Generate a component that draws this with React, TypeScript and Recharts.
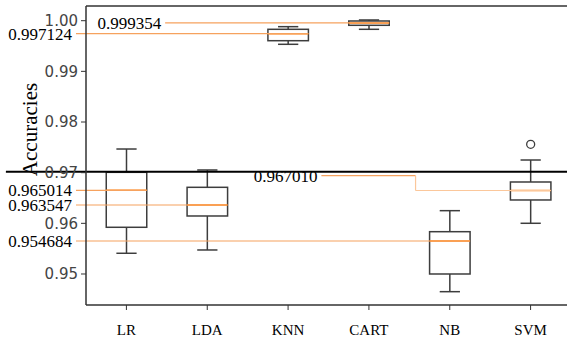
import { ComposedChart, Bar, XAxis, YAxis, ReferenceLine, Label } from 'recharts';

const models = ['LR', 'LDA', 'KNN', 'CART', 'NB', 'SVM'];
const whiskerLow = [0.95409, 0.95474, 0.99534, 0.9983, 0.94651, 0.96001];
const quartile1 = [0.95922, 0.96145, 0.99605, 0.99909, 0.95, 0.96461];
const medians = [0.96652, 0.96362, 0.99743, 0.99955, 0.95651, 0.96648];
const quartile3 = [0.97007, 0.96711, 0.9983, 0.99994, 0.95835, 0.96816];
const whiskerHigh = [0.97467, 0.97053, 0.99882, 1.00014, 0.9625, 0.9725];
const outliers = [[], [], [], [], [], [0.9756]];
const yTicks = [0.95, 0.96, 0.97, 0.98, 0.99, 1.0];
const medianTexts = ['0.965014', '0.963547', '0.997124', '0.999354', '0.954684', '0.967010'];
const thresholdLine = 0.9702;
const svmLabelLevel = 0.9694;

const Y_MIN = 0.94388;
const Y_MAX = 1.0029;

const data = models.map((name, i) => ({
  name,
  pos: i + 1,
  lo: whiskerLow[i],
  q1: quartile1[i],
  med: medians[i],
  q3: quartile3[i],
  hi: whiskerHigh[i],
  out: outliers[i],
}));

const BOX = '#3d3d3d';
const MEDIAN = '#ff7f0e';
const NOTE = '#f6a25e';
const NOTE_LIGHT = '#fbc79b';
const SERIF = '"Liberation Serif", "Times New Roman", serif';

// box + whiskers drawn inside one range bar (lo..hi), other levels mapped on the same pixel span
const BoxShape = (props: any) => {
  const { x, y, width, height, payload } = props;
  const { lo, hi, q1, med, q3, out } = payload;
  const py = (v: number) => y + ((hi - v) / (hi - lo)) * height;
  const cx = x + width / 2;
  const bw = width / 2;
  const cw = width / 4;
  return (
    <g>
      <line x1={cx} x2={cx} y1={py(hi)} y2={py(q3)} stroke={BOX} strokeWidth={1.5} />
      <line x1={cx} x2={cx} y1={py(q1)} y2={py(lo)} stroke={BOX} strokeWidth={1.5} />
      <line x1={cx - cw / 2} x2={cx + cw / 2} y1={py(hi)} y2={py(hi)} stroke={BOX} strokeWidth={1.5} />
      <line x1={cx - cw / 2} x2={cx + cw / 2} y1={py(lo)} y2={py(lo)} stroke={BOX} strokeWidth={1.5} />
      <rect x={cx - bw / 2} y={py(q3)} width={bw} height={py(q1) - py(q3)} fill="none" stroke={BOX} strokeWidth={1.5} />
      <line x1={cx - bw / 2} x2={cx + bw / 2} y1={py(med)} y2={py(med)} stroke={MEDIAN} strokeWidth={1.5} />
      {out.map((o: number, k: number) => (
        <circle key={k} cx={cx} cy={py(o)} r={4} fill="none" stroke={BOX} strokeWidth={1.3} />
      ))}
    </g>
  );
};

const noteLabel = (value: string) => ({
  value,
  position: 'left' as const,
  offset: 4,
  fill: '#000',
  fontSize: 17,
  fontFamily: SERIF,
});

const App = () => (
  <div style={{ position: 'absolute', left: 0, top: 0, width: 567, height: 341, overflow: 'hidden', background: '#fff' }}>
    <ComposedChart
      width={571}
      height={341}
      data={data}
      barCategoryGap="0%"
      margin={{ top: 6, right: 0, left: 0, bottom: 0 }}
    >
      <XAxis
        xAxisId="cat"
        dataKey="name"
        height={36}
        tickSize={5}
        tickMargin={14}
        axisLine={{ stroke: '#333', strokeWidth: 1.5 }}
        tickLine={{ stroke: '#333' }}
        tick={{ fill: '#000', fontSize: 15, fontFamily: SERIF }}
      />
      <XAxis xAxisId="num" dataKey="pos" type="number" domain={[0.5, 6.5]} allowDataOverflow hide />
      <YAxis
        width={86}
        type="number"
        domain={[Y_MIN, Y_MAX]}
        allowDataOverflow
        ticks={yTicks}
        tickFormatter={(v: number) => v.toFixed(2)}
        tickSize={5}
        tickMargin={3}
        axisLine={{ stroke: '#333', strokeWidth: 1.5 }}
        tickLine={{ stroke: '#333' }}
        tick={{ fill: '#444', fontSize: 15, fontFamily: '"DejaVu Sans", sans-serif' }}
      >
        <Label
          content={(p: any) => {
            const vb = p.viewBox;
            const lx = vb.x + 37;
            const ly = vb.y + vb.height / 2 - 26;
            return (
              <text x={lx} y={ly} transform={`rotate(-90 ${lx} ${ly})`} textAnchor="middle" fontSize={21} fontFamily={SERIF} fill="#000">
                Accuracies
              </text>
            );
          }}
        />
      </YAxis>
      <Bar xAxisId="cat" dataKey={(d: any) => [d.lo, d.hi]} shape={BoxShape} isAnimationActive={false} />
      <ReferenceLine xAxisId="num" y={Y_MAX} stroke="#333" strokeWidth={1.5} />
      <ReferenceLine
        xAxisId="num"
        ifOverflow="visible"
        segment={[{ x: 1.479, y: medians[3] }, { x: 4.25, y: medians[3] }]}
        stroke={NOTE}
        strokeWidth={1.2}
        label={noteLabel(medianTexts[3])}
      />
      <ReferenceLine
        xAxisId="num"
        ifOverflow="visible"
        segment={[{ x: 0.376, y: medians[2] }, { x: 3.25, y: medians[2] }]}
        stroke={NOTE}
        strokeWidth={1.2}
        label={noteLabel(medianTexts[2])}
      />
      <ReferenceLine
        xAxisId="num"
        ifOverflow="visible"
        segment={[{ x: 0.376, y: medians[0] }, { x: 1.25, y: medians[0] }]}
        stroke={NOTE}
        strokeWidth={1.2}
        label={noteLabel(medianTexts[0])}
      />
      <ReferenceLine
        xAxisId="num"
        ifOverflow="visible"
        segment={[{ x: 0.376, y: medians[1] }, { x: 2.25, y: medians[1] }]}
        stroke={NOTE}
        strokeWidth={1.2}
        label={noteLabel(medianTexts[1])}
      />
      <ReferenceLine
        xAxisId="num"
        ifOverflow="visible"
        segment={[{ x: 0.376, y: medians[4] }, { x: 5.25, y: medians[4] }]}
        stroke={NOTE}
        strokeWidth={1.2}
        label={noteLabel(medianTexts[4])}
      />
      <ReferenceLine
        xAxisId="num"
        ifOverflow="visible"
        segment={[{ x: 3.412, y: svmLabelLevel }, { x: 4.577, y: svmLabelLevel }]}
        stroke={NOTE}
        strokeWidth={1.2}
        label={noteLabel(medianTexts[5])}
      />
      <ReferenceLine
        xAxisId="num"
        ifOverflow="visible"
        segment={[{ x: 4.577, y: svmLabelLevel }, { x: 4.577, y: medians[5] }]}
        stroke={NOTE_LIGHT}
        strokeWidth={1.2}
      />
      <ReferenceLine
        xAxisId="num"
        ifOverflow="visible"
        segment={[{ x: 4.577, y: medians[5] }, { x: 6.25, y: medians[5] }]}
        stroke={NOTE_LIGHT}
        strokeWidth={1.2}
      />
      <ReferenceLine
        xAxisId="num"
        ifOverflow="visible"
        segment={[{ x: -0.491, y: thresholdLine }, { x: 6.5, y: thresholdLine }]}
        stroke="#000"
        strokeWidth={2}
      />
    </ComposedChart>
  </div>
);

export default App;
